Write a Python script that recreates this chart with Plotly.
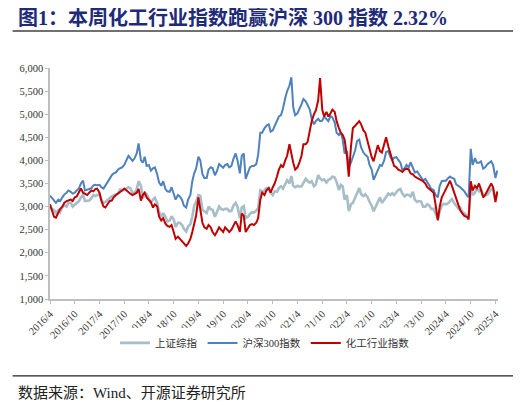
import pandas as pd
import plotly.graph_objects as go

# 半月频（每月1日、15日）数值，2016/4 - 2025/4
shanghai_composite = [
    2980, 2950, 2920, 2860, 2920, 2880, 2990, 3030, 3000, 3090, 3080, 3000, 3040, 3090, 3120, 3200, 3250, 3120,
    3120, 3130, 3180, 3250, 3230, 3250, 3270, 3150, 3080, 3100, 3150, 3180, 3220, 3240, 3260, 3280, 3370, 3350, 3360, 3380, 3420, 3400, 3300, 3290,
    3380, 3550, 3450, 3180, 3300, 3270, 3150, 3080, 3150, 3190, 3080, 2880, 2780, 2860, 2780, 2680, 2700, 2790, 2720, 2560, 2650, 2650, 2600, 2520,
    2460, 2570, 2620, 2780, 3020, 3100, 3250, 3230, 2930, 2890, 2860, 3000, 2940, 2930, 2780, 2880, 3000, 2950, 2930, 2950, 2950, 2900, 2910, 3020,
    3080, 3000, 2750, 2980, 3010, 2750, 2780, 2840, 2880, 2870, 2910, 2970, 3350, 3320, 3350, 3400, 3400, 3300, 3250, 3330, 3320, 3400, 3440, 3390,
    3500, 3570, 3500, 3660, 3450, 3420, 3450, 3430, 3440, 3500, 3600, 3550, 3520, 3550, 3440, 3480, 3680, 3610, 3570, 3590, 3520, 3580, 3600, 3650,
    3630, 3530, 3360, 3470, 3440, 3150, 3250, 2900, 3050, 3080, 3200, 3320, 3400, 3270, 3230, 3270, 3200, 3100, 3020, 2900, 3000, 3100, 3200, 3080,
    3150, 3220, 3280, 3250, 3290, 3250, 3300, 3360, 3380, 3280, 3220, 3260, 3250, 3220, 3320, 3150, 3100, 3120, 3110, 3000, 3000, 3050, 3020, 2950,
    2950, 2830, 2730, 2900, 3020, 3060, 3050, 3070, 3120, 3160, 3080, 3020, 2960, 2980, 2880, 2860, 2810, 2750, 3450, 3250, 3300, 3400, 3330, 3380,
    3250, 3240, 3260, 3330, 3380, 3370, 3150, 3290,
]
hs300 = [
    3240, 3180, 3130, 3080, 3150, 3120, 3200, 3260, 3300, 3350, 3320, 3280, 3300, 3340, 3400, 3500, 3560, 3350,
    3360, 3380, 3400, 3460, 3470, 3460, 3470, 3420, 3390, 3450, 3520, 3600, 3680, 3720, 3740, 3800, 3830, 3850, 3900, 3980, 4100, 4050, 3990, 4040,
    4150, 4370, 4000, 3950, 4080, 3880, 3900, 3780, 3830, 3850, 3700, 3520, 3450, 3550, 3380, 3330, 3320, 3420, 3250, 3150, 3250, 3220, 3150, 3020,
    2980, 3150, 3250, 3550, 3720, 3820, 4080, 4000, 3700, 3620, 3620, 3800, 3850, 3830, 3680, 3760, 3920, 3880, 3840, 3900, 3920, 3850, 3880, 4030,
    4150, 4000, 3720, 4100, 4150, 3600, 3720, 3850, 3880, 3880, 3920, 4120, 4600, 4600, 4700, 4750, 4780, 4620, 4650, 4750, 4850, 4950, 4980, 5120,
    5350, 5500, 5620, 5800, 5150, 4980, 5020, 5100, 5220, 5330, 5280, 5200, 5100, 4900, 4780, 4850, 4900, 4850, 4860, 4950, 4900, 4850, 4960, 4930,
    4820, 4600, 4550, 4600, 4450, 4150, 4200, 3850, 3950, 4070, 4220, 4420, 4450, 4280, 4170, 4120, 4080, 3900, 3800, 3580, 3700, 3820, 3900, 3880,
    4000, 4180, 4200, 4080, 4000, 4060, 4070, 4010, 3950, 3800, 3830, 3900, 3850, 3960, 3820, 3740, 3760, 3700, 3640, 3570, 3600, 3540, 3450, 3380,
    3360, 3250, 3200, 3450, 3550, 3560, 3560, 3610, 3650, 3620, 3600, 3480, 3450, 3420, 3370, 3330, 3250, 3200, 4250, 3900, 4050, 3950, 3950, 3980,
    3820, 3850, 3920, 3960, 3980, 3900, 3620, 3780,
]
chemical = [
    3050, 2900, 2780, 2760, 2850, 2950, 3000, 3080, 3120, 3130, 3150, 3120, 3200, 3220, 3300, 3390, 3300, 3280,
    3250, 3300, 3350, 3330, 3380, 3390, 3300, 3130, 3000, 2980, 3050, 3120, 3130, 3200, 3250, 3280, 3300, 3350, 3390, 3350, 3300, 3280, 3250, 3270,
    3300, 3380, 3130, 3250, 3300, 3200, 3150, 3100, 2980, 3050, 3000, 2780, 2700, 2750, 2630, 2580, 2560, 2600, 2450, 2300, 2350, 2300, 2250, 2200,
    2150, 2200, 2300, 2450, 2650, 2800, 3200, 2900, 2650, 2550, 2520, 2600, 2550, 2450, 2380, 2450, 2550, 2500, 2450, 2550, 2480, 2450, 2500, 2600,
    2680, 2600, 2450, 2850, 2800, 2450, 2550, 2600, 2620, 2600, 2650, 2750, 3150, 3300, 3250, 3350, 3400, 3300, 3420, 3500, 3650, 3800, 3900, 3850,
    4000, 4100, 4350, 4100, 3950, 3800, 3850, 3950, 4100, 4350, 4350, 4400, 4650, 4850, 5000, 5080, 5300, 5780, 5100, 4950, 5050, 4950, 5020, 5100,
    5050, 4850, 4700, 4600, 4550, 4450, 4100, 3650, 4300, 4700, 4750, 4800, 4850, 4780, 4650, 4600, 4400, 4200, 4070, 3980, 4200, 4330, 4200, 4170,
    4350, 4500, 4300, 4150, 4000, 3880, 3850, 3800, 3780, 3750, 3800, 3820, 3800, 3720, 3700, 3650, 3620, 3600, 3580, 3550, 3500, 3420, 3380, 3350,
    3300, 3050, 2700, 3000, 3200, 3280, 3380, 3480, 3560, 3450, 3300, 3200, 3050, 2920, 2850, 2800, 2780, 2720, 3550, 3350, 3450, 3400, 3500, 3350,
    3200, 3250, 3350, 3400, 3500, 3420, 3100, 3330,
]
series_names = ["上证综指", "沪深300指数", "化工行业指数"]
tick_labels = [f"{y}/{m}" for y in range(2016, 2026) for m in (4, 10)][:-1]

dates = pd.date_range("2016-04-01", periods=len(hs300), freq="SMS")
tick_dates = pd.date_range("2016-04-01", periods=len(tick_labels), freq="6MS")

colors = ["#A7BDC8", "#4F81BD", "#C00000"]
widths = [2.6, 2.0, 2.0]

fig = go.Figure()
for name, values, color, width in zip(series_names, [shanghai_composite, hs300, chemical], colors, widths):
    fig.add_trace(
        go.Scatter(
            x=dates[: len(values)],
            y=values,
            mode="lines",
            name=name,
            line=dict(color=color, width=width),
        )
    )

serif = "Liberation Serif, Noto Sans CJK SC"
axis_grey = "#BFBFBF"

# 页面 body 默认有 8px 边距，图本身缩小 8px 以对齐
fig.update_layout(
    width=513,
    height=397,
    margin=dict(l=35, r=23, t=60, b=106),
    paper_bgcolor="white",
    plot_bgcolor="white",
    showlegend=True,
    legend=dict(
        orientation="h",
        x=0.48,
        xanchor="center",
        y=-0.19,
        yanchor="middle",
        font=dict(family=serif, size=10.5, color="#333333"),
        itemwidth=30,
    ),
    font=dict(family=serif, color="#333333"),
)
fig.update_xaxes(
    range=["2016-04-01", "2025-04-20"],
    tickvals=tick_dates,
    ticktext=tick_labels,
    tickangle=-45,
    tickfont=dict(family=serif, size=10.5, color="#333333"),
    showline=True,
    linecolor=axis_grey,
    linewidth=1.5,
    ticks="outside",
    ticklen=3,
    tickcolor=axis_grey,
    showgrid=False,
    zeroline=False,
)
fig.update_yaxes(
    range=[1000, 6000],
    dtick=500,
    tickformat=",",
    tickfont=dict(family=serif, size=10.5, color="#333333"),
    showline=True,
    linecolor=axis_grey,
    linewidth=1.5,
    ticks="outside",
    ticklen=3,
    tickcolor=axis_grey,
    showgrid=False,
    zeroline=False,
)

# 标题、分隔线、数据来源
fig.add_annotation(
    text="<b>图1：本周化工行业指数跑赢沪深 300 指数 2.32%</b>",
    xref="paper", yref="paper", x=-0.077, y=1.2165,
    xanchor="left", yanchor="middle", showarrow=False,
    font=dict(family=serif, size=20, color="#1F2A78"),
)
fig.add_shape(type="line", xref="paper", yref="paper", x0=-0.0835, x1=1.0396, y0=1.16, y1=1.16,
              line=dict(color="#404040", width=1.5))
fig.add_shape(type="line", xref="paper", yref="paper", x0=-0.0835, x1=1.0396, y0=-0.333, y1=-0.333,
              line=dict(color="#222222", width=1.2))
fig.add_annotation(
    text="数据来源：Wind、开源证券研究所",
    xref="paper", yref="paper", x=-0.077, y=-0.407,
    xanchor="left", yanchor="middle", showarrow=False,
    font=dict(family=serif, size=15, color="#222222"),
)

fig.write_html("out.html")
